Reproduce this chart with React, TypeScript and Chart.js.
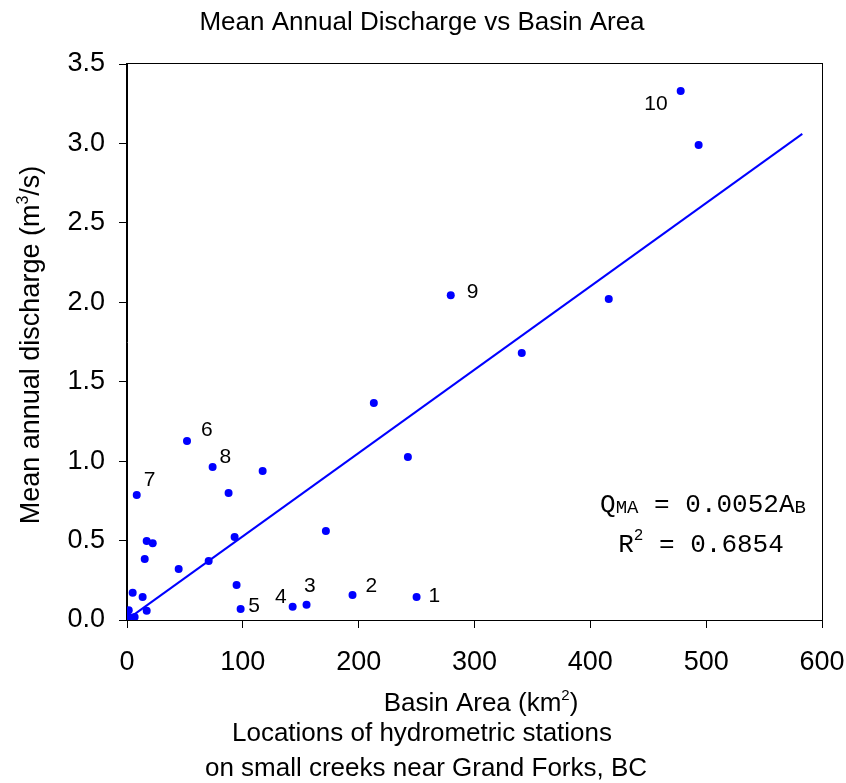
import React, { useEffect, useRef } from 'react';
import { Chart, registerables } from 'chart.js';

Chart.register(...registerables);

// Basin area (km²) and mean annual discharge (m³/s) of the stations
const BASIN_AREA = [
  478.0, 493.5, 415.9, 340.8, 279.5, 213.1, 242.5, 171.7, 117.1, 73.9,
  51.8, 87.7, 92.9, 70.5, 44.6, 94.6, 98.1, 143.0, 155.0, 194.7,
  250.0, 8.4, 17.0, 22.2, 15.3, 4.9, 13.5, 1.5, 17.0, 1.5, 6.6,
];
const DISCHARGE = [
  3.33, 2.99, 2.02, 1.68, 2.045, 1.366, 1.026, 0.56, 0.938, 0.963,
  1.127, 0.80, 0.522, 0.371, 0.321, 0.22, 0.069, 0.084, 0.096, 0.157,
  0.145, 0.787, 0.497, 0.483, 0.384, 0.172, 0.145, 0.061, 0.059, 0.019, 0.019,
];

// Station numbers and the index of the point each one labels
const STATION_NUMBERS = ['1', '2', '3', '4', '5', '6', '7', '8', '9', '10'];
const STATION_POINT_INDEX = [20, 19, 18, 17, 16, 10, 21, 9, 4, 0];

// Regression line Q = 0.0052 A (end points)
const TREND_AREA = [1.5, 583];
const TREND_DISCHARGE = [0.01, 3.06];

const X_TICK_MIN = 0;
const X_TICK_MAX = 600;
const X_TICK_STEP = 100;
const Y_TICK_MIN = 0;
const Y_TICK_MAX = 3.5;
const Y_TICK_STEP = 0.5;

const TITLE = 'Mean Annual Discharge vs Basin Area';
const FOOTER = ['Locations of hydrometric stations', 'on small creeks near Grand Forks, BC'];

const SANS = "'Liberation Sans', Arial, Helvetica, sans-serif";
const MONO = "'Liberation Mono', 'Courier New', monospace";
const BLUE = '#0000ff';

// label placement relative to the point: dx, dy (baseline), align
const LABEL_PLACEMENT: Record<string, [number, number, CanvasTextAlign]> = {
  '1': [12, 5, 'left'],
  '2': [13, -3, 'left'],
  '3': [-2.5, -12.5, 'left'],
  '4': [-6, -4, 'right'],
  '5': [7.5, 3, 'left'],
  '6': [14, -5, 'left'],
  '7': [7, -9, 'left'],
  '8': [7, -4.5, 'left'],
  '9': [16, 3, 'left'],
  '10': [-13, 19, 'right'],
};

type Seg = { t: string; size: number; dy: number };

function drawSegs(ctx: CanvasRenderingContext2D, segs: Seg[], family: string, cx: number, baseline: number) {
  let total = 0;
  for (const s of segs) {
    ctx.font = `${s.size}px ${family}`;
    total += ctx.measureText(s.t).width;
  }
  let x = cx - total / 2;
  ctx.textAlign = 'left';
  ctx.textBaseline = 'alphabetic';
  for (const s of segs) {
    ctx.font = `${s.size}px ${family}`;
    ctx.fillText(s.t, x, baseline + s.dy);
    x += ctx.measureText(s.t).width;
  }
}

const decorPlugin = {
  id: 'decor',
  afterDraw(chart: any) {
    const ctx: CanvasRenderingContext2D = chart.ctx;
    const { left, right, top, bottom } = chart.chartArea;
    const xs = chart.scales.x;
    const ys = chart.scales.y;
    ctx.save();
    // frame
    ctx.strokeStyle = '#000';
    ctx.lineWidth = 1;
    ctx.strokeRect(Math.round(left) - 0.5, Math.round(top) - 0.5, Math.round(right - left) + 1, Math.round(bottom - top) + 1);

    ctx.fillStyle = '#000';
    // title
    ctx.font = `26px ${SANS}`;
    ctx.textAlign = 'center';
    ctx.textBaseline = 'alphabetic';
    ctx.fillText(TITLE, 422, 30);

    // x axis title
    drawSegs(ctx, [
      { t: 'Basin Area (km', size: 26, dy: 0 },
      { t: '2', size: 15, dy: -11 },
      { t: ')', size: 26, dy: 0 },
    ], SANS, 481, 711);

    // footer
    ctx.font = `26px ${SANS}`;
    ctx.textAlign = 'center';
    ctx.fillText(FOOTER[0], 422, 741);
    ctx.fillText(FOOTER[1], 426, 776);

    // y axis title
    ctx.save();
    ctx.translate(39, 345);
    ctx.rotate(-Math.PI / 2);
    drawSegs(ctx, [
      { t: 'Mean annual discharge (m', size: 27, dy: 0 },
      { t: '3', size: 16, dy: -11 },
      { t: '/s)', size: 27, dy: 0 },
    ], SANS, 0, 0);
    ctx.restore();

    // station labels
    ctx.font = `21px ${SANS}`;
    ctx.textBaseline = 'alphabetic';
    STATION_NUMBERS.forEach((num, i) => {
      const idx = STATION_POINT_INDEX[i];
      const px = xs.getPixelForValue(BASIN_AREA[idx]);
      const py = ys.getPixelForValue(DISCHARGE[idx]);
      const [dx, dy, align] = LABEL_PLACEMENT[num];
      ctx.textAlign = align;
      ctx.fillText(num, px + dx, py + dy);
    });

    // equation
    drawSegs(ctx, [
      { t: 'Q', size: 26, dy: 0 },
      { t: 'MA', size: 19, dy: 1 },
      { t: ' = 0.0052A', size: 26, dy: 0 },
      { t: 'B', size: 19, dy: 1 },
    ], MONO, 703, 512);
    drawSegs(ctx, [
      { t: 'R', size: 26, dy: 0 },
      { t: '2', size: 16, dy: -12 },
      { t: ' = 0.6854', size: 26, dy: 0 },
    ], MONO, 701, 552);
    ctx.restore();
  },
};

function zeroPadding(s: any) {
  s.paddingLeft = 0;
  s.paddingRight = 0;
  s.paddingTop = 0;
  s.paddingBottom = 0;
}

export default function App() {
  const ref = useRef<HTMLCanvasElement>(null);
  useEffect(() => {
    document.body.style.margin = '0';
    const canvas = ref.current!;
    const points = BASIN_AREA.map((a, i) => ({ x: a, y: DISCHARGE[i] }));
    const trend = TREND_AREA.map((a, i) => ({ x: a, y: TREND_DISCHARGE[i] }));
    const tickFont = { family: SANS, size: 27 };
    const chart = new Chart(canvas, {
      type: 'scatter',
      data: {
        datasets: [
          {
            label: 'Regression',
            data: trend,
            showLine: true,
            borderColor: BLUE,
            borderWidth: 2,
            pointRadius: 0,
            fill: false,
          },
          {
            label: 'Stations',
            data: points,
            pointRadius: 4,
            pointBackgroundColor: BLUE,
            pointBorderWidth: 0,
            showLine: false,
          },
        ],
      },
      options: {
        animation: false,
        responsive: false,
        devicePixelRatio: 1,
        layout: { padding: { top: 64, right: 24, left: 0, bottom: 0 } },
        plugins: {
          legend: { display: false },
          title: { display: false },
          tooltip: { enabled: false },
        },
        scales: {
          x: {
            type: 'linear',
            min: X_TICK_MIN,
            max: X_TICK_MAX,
            ticks: { stepSize: X_TICK_STEP, color: '#000', font: tickFont, padding: 18, maxRotation: 0 },
            grid: { drawOnChartArea: false, drawTicks: true, tickLength: 8, color: '#000', lineWidth: 1 },
            border: { display: true, color: '#000', width: 1 },
            afterFit: (s: any) => { s.height = 163; zeroPadding(s); },
          },
          y: {
            type: 'linear',
            min: Y_TICK_MIN,
            max: Y_TICK_MAX,
            ticks: { stepSize: Y_TICK_STEP, color: '#000', font: tickFont, padding: 14, callback: (v: any) => Number(v).toFixed(1) },
            grid: { drawOnChartArea: false, drawTicks: true, tickLength: 8, color: '#000', lineWidth: 1 },
            border: { display: true, color: '#000', width: 1 },
            afterFit: (s: any) => { s.width = 127; zeroPadding(s); },
          },
        },
      },
      plugins: [decorPlugin],
    } as any);
    return () => chart.destroy();
  }, []);
  return <canvas ref={ref} width={846} height={783} style={{ display: 'block', width: 846, height: 783 }} />;
}
